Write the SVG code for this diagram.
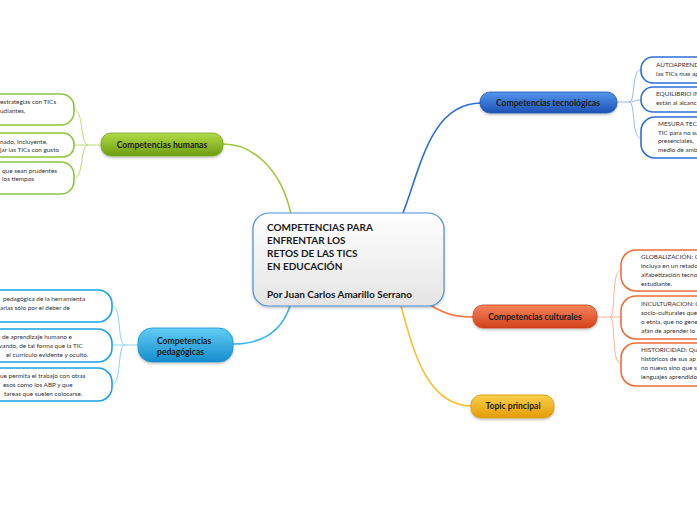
<svg xmlns="http://www.w3.org/2000/svg" width="697" height="520" viewBox="0 0 697 520">
<defs>
<linearGradient id="gCenter" x1="0" y1="0" x2="0" y2="1"><stop offset="0" stop-color="#ffffff"/><stop offset="1" stop-color="#e4e4e4"/></linearGradient>
<linearGradient id="gGreen" x1="0" y1="0" x2="0" y2="1"><stop offset="0" stop-color="#b2dc48"/><stop offset="1" stop-color="#6c9c10"/></linearGradient>
<linearGradient id="gPed" x1="0" y1="0" x2="0" y2="1"><stop offset="0" stop-color="#62cdf5"/><stop offset="1" stop-color="#168ccd"/></linearGradient>
<linearGradient id="gTec" x1="0" y1="0" x2="0" y2="1"><stop offset="0" stop-color="#5596ec"/><stop offset="1" stop-color="#1c52b6"/></linearGradient>
<linearGradient id="gCul" x1="0" y1="0" x2="0" y2="1"><stop offset="0" stop-color="#f6845a"/><stop offset="1" stop-color="#d4421a"/></linearGradient>
<linearGradient id="gTop" x1="0" y1="0" x2="0" y2="1"><stop offset="0" stop-color="#fbcf4a"/><stop offset="1" stop-color="#e49c06"/></linearGradient>
<filter id="sh" x="-10%" y="-20%" width="120%" height="150%"><feDropShadow dx="0" dy="1.5" stdDeviation="1.2" flood-color="#000" flood-opacity="0.25"/></filter>
</defs>
<style>
text{font-family:Lato,"Open Sans","Liberation Sans",sans-serif;}
.ct{font-size:10px;font-weight:bold;fill:#1a1a1a;}
.nt{font-size:8.6px;font-weight:bold;fill:#1a1a1a;text-anchor:middle;}
.lt{font-size:6.4px;fill:#333;}
.leafG{fill:#fff;stroke:#8cc63f;stroke-width:1.6;}
.leafP{fill:#fff;stroke:#1aa3e6;stroke-width:1.6;}
.leafT{fill:#fff;stroke:#2c6fd9;stroke-width:1.6;}
.leafC{fill:#fff;stroke:#f26b3a;stroke-width:1.6;}
.c{fill:none;}
</style>

<g id="connectors">
<path class="c" d="M223,144 C252,144 281,168 291,214" stroke="#9cc83a" stroke-width="1.6"/>
<path class="c" d="M403,213 C420,170 430,103 481,103" stroke="#2d6fd8" stroke-width="1.6"/>
<path class="c" d="M233,344 C265,344 282,330 290,306" stroke="#3ab6ee" stroke-width="1.6"/>
<path class="c" d="M430,305 C445,314 455,317 474,317" stroke="#f47a50" stroke-width="1.6"/>
<path class="c" d="M401,306 C412,345 425,406 472,406" stroke="#f9c236" stroke-width="1.6"/>
<g stroke="#b9dc74" stroke-width="1" fill="none">
<path d="M101,145 L88,145"/>
<path d="M74,110 C84,110 80,145 88,145"/>
<path d="M74,145 L88,145"/>
<path d="M74,178 C84,178 80,145 88,145"/>
</g>
<g stroke="#8dd3f5" stroke-width="1" fill="none">
<path d="M138,345 L125,345"/>
<path d="M112,306 C122,306 117,345 125,345"/>
<path d="M112,345 L125,345"/>
<path d="M112,384 C122,384 117,345 125,345"/>
</g>
<g stroke="#98b9ef" stroke-width="1" fill="none">
<path d="M617,102 L629,102"/>
<path d="M641,70 C631,70 636,102 629,102"/>
<path d="M641,100 C634,100 634,102 629,102"/>
<path d="M641,138 C631,138 636,102 629,102"/>
</g>
<g stroke="#f8b49a" stroke-width="1" fill="none">
<path d="M597,317 L610,317"/>
<path d="M621,270 C611,270 616,317 610,317"/>
<path d="M621,317 L610,317"/>
<path d="M621,364 C611,364 616,317 610,317"/>
</g>
</g>

<g id="center">
<rect x="253" y="213" width="191" height="93" rx="16" fill="url(#gCenter)" stroke="#4a90d9" stroke-width="1.2" filter="url(#sh)"/>
<text class="ct" x="267" y="231">COMPETENCIAS PARA</text>
<text class="ct" x="267" y="244">ENFRENTAR LOS</text>
<text class="ct" x="267" y="257">RETOS DE LAS TICS</text>
<text class="ct" x="267" y="270">EN EDUCACIÓN</text>
<text class="ct" x="267" y="298">Por Juan Carlos Amarillo Serrano</text>
</g>

<g id="humanas">
<rect x="101" y="133" width="122" height="23" rx="10" fill="url(#gGreen)" stroke="#7aa822" stroke-width="0.8" filter="url(#sh)"/>
<text class="nt" x="162" y="148">Competencias humanas</text>
</g>
<g id="h1"><rect class="leafG" x="-60" y="94" width="134" height="31" rx="13"/>
<text class="lt" x="0" y="104">estrategias con TICs</text><text class="lt" x="0" y="113">udiantes,</text></g>
<g id="h2"><rect class="leafG" x="-60" y="133" width="134" height="24" rx="11"/>
<text class="lt" x="0" y="144">nado, incluyente,</text><text class="lt" x="0" y="152">jar las TICs con gusto</text></g>
<g id="h3"><rect class="leafG" x="-60" y="162" width="134" height="32" rx="13"/>
<text class="lt" x="2" y="173">que sean prudentes</text><text class="lt" x="2" y="181">los tiempos</text></g>

<g id="pedagogicas">
<rect x="138" y="328" width="95" height="34" rx="14" fill="url(#gPed)" stroke="#1b93d6" stroke-width="0.8" filter="url(#sh)"/>
<text class="nt" x="157" y="344" style="text-anchor:start">Competencias</text>
<text class="nt" x="157" y="355" style="text-anchor:start">pedagógicas</text>
</g>
<g id="p1"><rect class="leafP" x="-60" y="290" width="172" height="32" rx="14"/>
<text class="lt" x="3" y="301">pedagógica de la herramienta</text><text class="lt" x="0" y="310">arlas sólo por el deber de</text></g>
<g id="p2"><rect class="leafP" x="-60" y="329" width="172" height="33" rx="14"/>
<text class="lt" x="2" y="339">de aprendizaje humano e</text><text class="lt" x="-1" y="348">vando, de tal forma que la TIC</text><text class="lt" x="6" y="357">el currículo evidente y oculto.</text></g>
<g id="p3"><rect class="leafP" x="-60" y="368" width="172" height="33" rx="14"/>
<text class="lt" x="0" y="378">ue permita el trabajo con otras</text><text class="lt" x="3" y="387">esos como los ABP y que</text><text class="lt" x="4" y="396">tareas que suelen colocarse.</text></g>

<g id="tecnologicas">
<rect x="480" y="92" width="137" height="21" rx="10" fill="url(#gTec)" stroke="#1d55b8" stroke-width="0.8" filter="url(#sh)"/>
<text class="nt" x="548" y="106">Competencias tecnológicas</text>
</g>
<g id="t1"><rect class="leafT" x="641" y="57" width="120" height="26" rx="12"/>
<text class="lt" x="656" y="67">AUTOAPRENDI</text><text class="lt" x="656" y="76">las TICs mas ap</text></g>
<g id="t2"><rect class="leafT" x="641" y="87" width="120" height="25" rx="12"/>
<text class="lt" x="656" y="96">EQUILIBRIO IN</text><text class="lt" x="656" y="105">están al alcanc</text></g>
<g id="t3"><rect class="leafT" x="641" y="117" width="120" height="41" rx="14"/>
<text class="lt" x="658" y="126">MESURA TEC</text><text class="lt" x="658" y="135">TIC para no su</text><text class="lt" x="658" y="143">presenciales,</text><text class="lt" x="658" y="152">medio de amb</text></g>

<g id="culturales">
<rect x="473" y="305" width="124" height="23" rx="10" fill="url(#gCul)" stroke="#c9401a" stroke-width="0.8" filter="url(#sh)"/>
<text class="nt" x="535" y="320">Competencias culturales</text>
</g>
<g id="c1"><rect class="leafC" x="621" y="250" width="130" height="41" rx="15"/>
<text class="lt" x="641" y="259">GLOBALIZACIÓN: Q</text><text class="lt" x="641" y="268">incluya en un retado</text><text class="lt" x="641" y="277">alfabetización tecno</text><text class="lt" x="641" y="286">estudiante.</text></g>
<g id="c2"><rect class="leafC" x="621" y="296" width="130" height="43" rx="15"/>
<text class="lt" x="641" y="306">INCULTURACION: Q</text><text class="lt" x="641" y="315">socio-culturales que</text><text class="lt" x="641" y="324">o etnia, que no gene</text><text class="lt" x="641" y="333">afán de aprender lo</text></g>
<g id="c3"><rect class="leafC" x="621" y="343" width="130" height="43" rx="15"/>
<text class="lt" x="641" y="352">HISTORICIDAD:  Qu</text><text class="lt" x="641" y="361">históricos de sus ap</text><text class="lt" x="641" y="370">no nuevo sino que si</text><text class="lt" x="641" y="379">lenguajes aprendido</text></g>

<g id="topic">
<rect x="471" y="395" width="83" height="23" rx="10" fill="url(#gTop)" stroke="#d9960a" stroke-width="0.8" filter="url(#sh)"/>
<text class="nt" x="513" y="409">Topic principal</text>
</g>
</svg>
